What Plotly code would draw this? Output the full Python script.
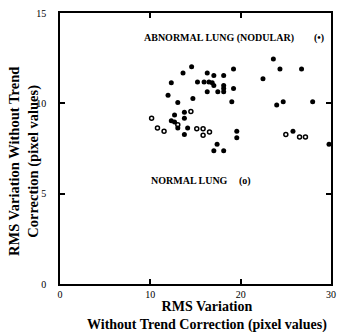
import plotly.graph_objects as go

# Abnormal lung (nodular) - filled markers
abn_x = [23.62, 24.35, 26.74, 22.47, 14.57, 13.62, 16.30, 17.03, 18.12, 19.21,
         12.32, 15.22, 15.95, 16.49, 16.85, 17.03, 18.12, 18.12, 18.12, 19.21,
         16.30, 17.47, 11.96, 14.71, 13.04, 19.02, 23.99, 24.71, 27.97, 12.68,
         13.77, 13.77, 12.32, 12.68, 13.04, 14.13, 13.77, 17.39, 17.03, 18.12,
         19.57, 19.57, 25.79, 29.78]
abn_y = [12.45, 11.90, 11.90, 11.36, 12.03, 11.68, 11.68, 11.54, 11.54, 11.90,
         11.14, 11.18, 11.18, 11.18, 11.14, 10.99, 10.99, 10.82, 10.64, 10.82,
         10.64, 10.64, 10.45, 10.27, 10.05, 10.09, 9.91, 10.09, 10.09, 9.36,
         9.51, 9.18, 9.04, 8.97, 8.64, 8.64, 8.28, 7.73, 7.38, 7.38,
         8.46, 8.10, 8.46, 7.73]

# Normal lung - open markers
nor_x = [10.14, 14.49, 13.04, 10.79, 11.52, 15.14, 15.84, 15.84, 16.55, 25.00, 26.52, 27.17]
nor_y = [9.18, 9.55, 8.82, 8.64, 8.46, 8.60, 8.60, 8.24, 8.42, 8.28, 8.14, 8.14]

x_ticks = [0, 10, 20, 30]
y_ticks = [0, 5, 10, 15]

SERIF = "Liberation Serif, Times New Roman, serif"

fig = go.Figure()
fig.add_trace(go.Scatter(x=abn_x, y=abn_y, mode="markers", name="Abnormal lung (nodular)",
                         marker=dict(symbol="circle", size=5, color="black")))
fig.add_trace(go.Scatter(x=nor_x, y=nor_y, mode="markers", name="Normal lung",
                         marker=dict(symbol="circle-open", size=4, color="black",
                                     line=dict(width=1.5, color="black"))))

axis_common = dict(showline=True, linecolor="black", linewidth=1.5, mirror="ticks",
                   ticks="inside", ticklen=5, tickwidth=1.5, tickcolor="black",
                   showgrid=False, zeroline=False,
                   tickfont=dict(family=SERIF, size=10, color="black"))

fig.update_xaxes(range=[0, 30], tickvals=x_ticks, ticklabelstandoff=0, **axis_common)
fig.update_yaxes(range=[0, 15], tickvals=y_ticks, ticklabelstandoff=10, **axis_common)

def px2paper_x(px):
    return (px - 60) / 276.0

def px2paper_y(py):
    return (284 - py) / 275.0

annots = [
    dict(text="<b>RMS Variation Without Trend<br>Correction (pixel values)</b>",
         x=px2paper_x(23.5), y=px2paper_y(160), textangle=-90, size=14.5),
    dict(text="<b>RMS Variation<br>Without Trend Correction (pixel values)</b>",
         x=px2paper_x(210), y=px2paper_y(316), textangle=0, size=14),
    dict(text="<b>ABNORMAL LUNG (NODULAR)</b>", x=px2paper_x(222), y=px2paper_y(34),
         textangle=0, size=10),
    dict(text="<b>(•)</b>", x=px2paper_x(324), y=px2paper_y(34), textangle=0, size=10),
    dict(text="<b>NORMAL LUNG</b>", x=px2paper_x(192), y=px2paper_y(179), textangle=0, size=10),
    dict(text="<b>(o)</b>", x=px2paper_x(248), y=px2paper_y(179), textangle=0, size=10),
]
for a in annots:
    fig.add_annotation(text=a["text"], x=a["x"], y=a["y"], xref="paper", yref="paper",
                       showarrow=False, textangle=a["textangle"], xanchor="center", yanchor="middle",
                       align="center", borderpad=0,
                       font=dict(family=SERIF, size=a["size"], color="black"))

fig.update_layout(width=343, height=332, margin=dict(l=60, r=7, t=9, b=48),
                  paper_bgcolor="white", plot_bgcolor="white", showlegend=False)

fig.write_html("out.html", config={"displayModeBar": False},
               post_script="document.body.style.margin='0';document.body.style.overflow='hidden';")
